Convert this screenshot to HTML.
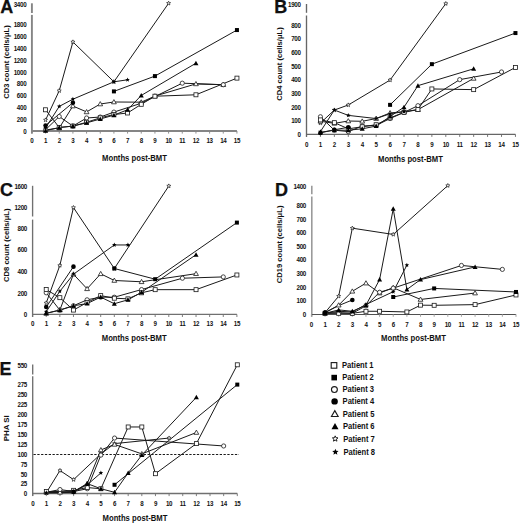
<!DOCTYPE html>
<html><head><meta charset="utf-8"><style>
html,body{margin:0;padding:0;background:#fff;}
body{width:520px;height:523px;overflow:hidden;}
svg{display:block;}
text{font-family:"Liberation Sans", sans-serif;fill:#111;}
</style></head><body>
<svg width="520" height="523" viewBox="0 0 520 523">
<rect width="520" height="523" fill="#fff"/>
<text x="0.30" y="13.20" font-size="18" font-weight="bold" text-anchor="start" stroke="#000" stroke-width="0.25">A</text>
<line x1="31.90" y1="133.60" x2="31.90" y2="14.90" stroke="#858585" stroke-width="1.9"/>
<line x1="31.90" y1="13.00" x2="31.90" y2="3.30" stroke="#858585" stroke-width="1.9"/>
<line x1="31.90" y1="131.00" x2="236.95" y2="131.00" stroke="#858585" stroke-width="1.9"/>
<line x1="31.90" y1="131.00" x2="31.90" y2="133.60" stroke="#858585" stroke-width="0.9"/>
<text transform="translate(31.90,143.00) scale(1,1.15)" font-size="6.2" font-weight="bold" text-anchor="middle" letter-spacing="-0.3">0</text>
<line x1="45.57" y1="131.00" x2="45.57" y2="133.60" stroke="#858585" stroke-width="0.9"/>
<text transform="translate(45.57,143.00) scale(1,1.15)" font-size="6.2" font-weight="bold" text-anchor="middle" letter-spacing="-0.3">1</text>
<line x1="59.24" y1="131.00" x2="59.24" y2="133.60" stroke="#858585" stroke-width="0.9"/>
<text transform="translate(59.24,143.00) scale(1,1.15)" font-size="6.2" font-weight="bold" text-anchor="middle" letter-spacing="-0.3">2</text>
<line x1="72.91" y1="131.00" x2="72.91" y2="133.60" stroke="#858585" stroke-width="0.9"/>
<text transform="translate(72.91,143.00) scale(1,1.15)" font-size="6.2" font-weight="bold" text-anchor="middle" letter-spacing="-0.3">3</text>
<line x1="86.58" y1="131.00" x2="86.58" y2="133.60" stroke="#858585" stroke-width="0.9"/>
<text transform="translate(86.58,143.00) scale(1,1.15)" font-size="6.2" font-weight="bold" text-anchor="middle" letter-spacing="-0.3">4</text>
<line x1="100.25" y1="131.00" x2="100.25" y2="133.60" stroke="#858585" stroke-width="0.9"/>
<text transform="translate(100.25,143.00) scale(1,1.15)" font-size="6.2" font-weight="bold" text-anchor="middle" letter-spacing="-0.3">5</text>
<line x1="113.92" y1="131.00" x2="113.92" y2="133.60" stroke="#858585" stroke-width="0.9"/>
<text transform="translate(113.92,143.00) scale(1,1.15)" font-size="6.2" font-weight="bold" text-anchor="middle" letter-spacing="-0.3">6</text>
<line x1="127.59" y1="131.00" x2="127.59" y2="133.60" stroke="#858585" stroke-width="0.9"/>
<text transform="translate(127.59,143.00) scale(1,1.15)" font-size="6.2" font-weight="bold" text-anchor="middle" letter-spacing="-0.3">7</text>
<line x1="141.26" y1="131.00" x2="141.26" y2="133.60" stroke="#858585" stroke-width="0.9"/>
<text transform="translate(141.26,143.00) scale(1,1.15)" font-size="6.2" font-weight="bold" text-anchor="middle" letter-spacing="-0.3">8</text>
<line x1="154.93" y1="131.00" x2="154.93" y2="133.60" stroke="#858585" stroke-width="0.9"/>
<text transform="translate(154.93,143.00) scale(1,1.15)" font-size="6.2" font-weight="bold" text-anchor="middle" letter-spacing="-0.3">9</text>
<line x1="168.60" y1="131.00" x2="168.60" y2="133.60" stroke="#858585" stroke-width="0.9"/>
<text transform="translate(168.60,143.00) scale(1,1.15)" font-size="6.2" font-weight="bold" text-anchor="middle" letter-spacing="-0.3">10</text>
<line x1="182.27" y1="131.00" x2="182.27" y2="133.60" stroke="#858585" stroke-width="0.9"/>
<text transform="translate(182.27,143.00) scale(1,1.15)" font-size="6.2" font-weight="bold" text-anchor="middle" letter-spacing="-0.3">11</text>
<line x1="195.94" y1="131.00" x2="195.94" y2="133.60" stroke="#858585" stroke-width="0.9"/>
<text transform="translate(195.94,143.00) scale(1,1.15)" font-size="6.2" font-weight="bold" text-anchor="middle" letter-spacing="-0.3">12</text>
<line x1="209.61" y1="131.00" x2="209.61" y2="133.60" stroke="#858585" stroke-width="0.9"/>
<text transform="translate(209.61,143.00) scale(1,1.15)" font-size="6.2" font-weight="bold" text-anchor="middle" letter-spacing="-0.3">13</text>
<line x1="223.28" y1="131.00" x2="223.28" y2="133.60" stroke="#858585" stroke-width="0.9"/>
<text transform="translate(223.28,143.00) scale(1,1.15)" font-size="6.2" font-weight="bold" text-anchor="middle" letter-spacing="-0.3">14</text>
<line x1="236.95" y1="131.00" x2="236.95" y2="133.60" stroke="#858585" stroke-width="0.9"/>
<text transform="translate(236.95,143.00) scale(1,1.15)" font-size="6.2" font-weight="bold" text-anchor="middle" letter-spacing="-0.3">15</text>
<text transform="translate(26.30,134.00) scale(1,1.15)" font-size="6.2" font-weight="bold" text-anchor="end" letter-spacing="-0.3">0</text>
<text transform="translate(26.30,122.10) scale(1,1.15)" font-size="6.2" font-weight="bold" text-anchor="end" letter-spacing="-0.3">200</text>
<text transform="translate(26.30,110.20) scale(1,1.15)" font-size="6.2" font-weight="bold" text-anchor="end" letter-spacing="-0.3">400</text>
<text transform="translate(26.30,98.30) scale(1,1.15)" font-size="6.2" font-weight="bold" text-anchor="end" letter-spacing="-0.3">600</text>
<text transform="translate(26.30,86.40) scale(1,1.15)" font-size="6.2" font-weight="bold" text-anchor="end" letter-spacing="-0.3">800</text>
<text transform="translate(26.30,74.50) scale(1,1.15)" font-size="6.2" font-weight="bold" text-anchor="end" letter-spacing="-0.3">1000</text>
<text transform="translate(26.30,62.60) scale(1,1.15)" font-size="6.2" font-weight="bold" text-anchor="end" letter-spacing="-0.3">1200</text>
<text transform="translate(26.30,50.70) scale(1,1.15)" font-size="6.2" font-weight="bold" text-anchor="end" letter-spacing="-0.3">1400</text>
<text transform="translate(26.30,38.80) scale(1,1.15)" font-size="6.2" font-weight="bold" text-anchor="end" letter-spacing="-0.3">1600</text>
<text transform="translate(26.30,26.90) scale(1,1.15)" font-size="6.2" font-weight="bold" text-anchor="end" letter-spacing="-0.3">1800</text>
<text transform="translate(26.30,6.50) scale(1,1.15)" font-size="6.2" font-weight="bold" text-anchor="end" letter-spacing="-0.3">3400</text>
<text transform="translate(134.50,161.40) scale(1,1.12)" font-size="7.7" font-weight="bold" text-anchor="middle" >Months post-BMT</text>
<text transform="translate(9.00,62.00) rotate(-90)" font-size="7.6" font-weight="bold" text-anchor="middle">CD3 count (cells/&#956;L)</text>
<polyline points="45.57,109.78 59.24,127.51 72.91,126.08 86.58,122.27 100.25,117.81 113.92,114.54 127.59,112.99 141.26,104.31 154.93,96.21 195.94,94.79 236.95,78.13" fill="none" stroke="#1a1a1a" stroke-width="1.0"/>
<polyline points="113.92,91.39 154.93,76.10 236.95,30.05" fill="none" stroke="#1a1a1a" stroke-width="1.0"/>
<polyline points="45.57,129.71 59.24,116.50 72.91,126.08 86.58,117.99 100.25,117.04 113.92,112.10 141.26,103.23 182.27,83.18 223.28,84.73" fill="none" stroke="#1a1a1a" stroke-width="1.0"/>
<polyline points="45.57,125.43 72.91,102.70" fill="none" stroke="#1a1a1a" stroke-width="1.0"/>
<polyline points="45.57,130.01 59.24,127.93 72.91,106.03 86.58,111.92 100.25,104.01 113.92,101.99 141.26,102.16 154.93,96.09 195.94,83.90 223.28,84.73" fill="none" stroke="#1a1a1a" stroke-width="1.0"/>
<polyline points="45.57,130.72 59.24,127.51 72.91,126.08 86.58,122.87 100.25,119.00 113.92,115.13 127.59,109.78 141.26,95.44 195.94,63.19" fill="none" stroke="#1a1a1a" stroke-width="1.0"/>
<polyline points="45.57,120.01 59.24,90.74 72.91,41.95 113.92,81.81 168.60,3.30" fill="none" stroke="#1a1a1a" stroke-width="1.0"/>
<polyline points="45.57,127.93 59.24,106.39 72.91,99.19 113.92,81.81 127.59,79.79" fill="none" stroke="#1a1a1a" stroke-width="1.0"/>
<polygon points="45.57,117.91 46.13,119.25 47.57,119.37 46.47,120.31 46.80,121.71 45.57,120.96 44.34,121.71 44.67,120.31 43.57,119.37 45.01,119.25" fill="#fff" stroke="#1a1a1a" stroke-width="0.7"/>
<polygon points="59.24,88.64 59.80,89.97 61.24,90.09 60.14,91.03 60.47,92.44 59.24,91.69 58.01,92.44 58.34,91.03 57.24,90.09 58.68,89.97" fill="#fff" stroke="#1a1a1a" stroke-width="0.7"/>
<polygon points="72.91,39.85 73.47,41.18 74.91,41.30 73.81,42.24 74.14,43.65 72.91,42.90 71.68,43.65 72.01,42.24 70.91,41.30 72.35,41.18" fill="#fff" stroke="#1a1a1a" stroke-width="0.7"/>
<polygon points="113.92,79.72 114.48,81.05 115.92,81.17 114.82,82.11 115.15,83.51 113.92,82.77 112.69,83.51 113.02,82.11 111.92,81.17 113.36,81.05" fill="#fff" stroke="#1a1a1a" stroke-width="0.7"/>
<polygon points="168.60,1.20 169.16,2.53 170.60,2.65 169.50,3.59 169.83,5.00 168.60,4.25 167.37,5.00 167.70,3.59 166.60,2.65 168.04,2.53" fill="#fff" stroke="#1a1a1a" stroke-width="0.7"/>
<polygon points="45.57,127.61 47.97,131.81 43.17,131.81" fill="#fff" stroke="#1a1a1a" stroke-width="0.8"/>
<polygon points="59.24,125.53 61.64,129.73 56.84,129.73" fill="#fff" stroke="#1a1a1a" stroke-width="0.8"/>
<polygon points="72.91,103.63 75.31,107.83 70.51,107.83" fill="#fff" stroke="#1a1a1a" stroke-width="0.8"/>
<polygon points="86.58,109.52 88.98,113.72 84.18,113.72" fill="#fff" stroke="#1a1a1a" stroke-width="0.8"/>
<polygon points="100.25,101.61 102.65,105.81 97.85,105.81" fill="#fff" stroke="#1a1a1a" stroke-width="0.8"/>
<polygon points="113.92,99.59 116.32,103.79 111.52,103.79" fill="#fff" stroke="#1a1a1a" stroke-width="0.8"/>
<polygon points="141.26,99.76 143.66,103.96 138.86,103.96" fill="#fff" stroke="#1a1a1a" stroke-width="0.8"/>
<polygon points="154.93,93.69 157.33,97.89 152.53,97.89" fill="#fff" stroke="#1a1a1a" stroke-width="0.8"/>
<polygon points="195.94,81.50 198.34,85.70 193.54,85.70" fill="#fff" stroke="#1a1a1a" stroke-width="0.8"/>
<polygon points="223.28,82.33 225.68,86.53 220.88,86.53" fill="#fff" stroke="#1a1a1a" stroke-width="0.8"/>
<circle cx="45.57" cy="129.71" r="2.1" fill="#fff" stroke="#1a1a1a" stroke-width="0.8"/>
<circle cx="59.24" cy="116.50" r="2.1" fill="#fff" stroke="#1a1a1a" stroke-width="0.8"/>
<circle cx="72.91" cy="126.08" r="2.1" fill="#fff" stroke="#1a1a1a" stroke-width="0.8"/>
<circle cx="86.58" cy="117.99" r="2.1" fill="#fff" stroke="#1a1a1a" stroke-width="0.8"/>
<circle cx="100.25" cy="117.04" r="2.1" fill="#fff" stroke="#1a1a1a" stroke-width="0.8"/>
<circle cx="113.92" cy="112.10" r="2.1" fill="#fff" stroke="#1a1a1a" stroke-width="0.8"/>
<circle cx="141.26" cy="103.23" r="2.1" fill="#fff" stroke="#1a1a1a" stroke-width="0.8"/>
<circle cx="182.27" cy="83.18" r="2.1" fill="#fff" stroke="#1a1a1a" stroke-width="0.8"/>
<circle cx="223.28" cy="84.73" r="2.1" fill="#fff" stroke="#1a1a1a" stroke-width="0.8"/>
<rect x="43.57" y="107.78" width="4.00" height="4.00" fill="#fff" stroke="#1a1a1a" stroke-width="0.8"/>
<rect x="57.24" y="125.51" width="4.00" height="4.00" fill="#fff" stroke="#1a1a1a" stroke-width="0.8"/>
<rect x="70.91" y="124.08" width="4.00" height="4.00" fill="#fff" stroke="#1a1a1a" stroke-width="0.8"/>
<rect x="84.58" y="120.27" width="4.00" height="4.00" fill="#fff" stroke="#1a1a1a" stroke-width="0.8"/>
<rect x="98.25" y="115.81" width="4.00" height="4.00" fill="#fff" stroke="#1a1a1a" stroke-width="0.8"/>
<rect x="111.92" y="112.54" width="4.00" height="4.00" fill="#fff" stroke="#1a1a1a" stroke-width="0.8"/>
<rect x="125.59" y="110.99" width="4.00" height="4.00" fill="#fff" stroke="#1a1a1a" stroke-width="0.8"/>
<rect x="139.26" y="102.31" width="4.00" height="4.00" fill="#fff" stroke="#1a1a1a" stroke-width="0.8"/>
<rect x="152.93" y="94.21" width="4.00" height="4.00" fill="#fff" stroke="#1a1a1a" stroke-width="0.8"/>
<rect x="193.94" y="92.79" width="4.00" height="4.00" fill="#fff" stroke="#1a1a1a" stroke-width="0.8"/>
<rect x="234.95" y="76.13" width="4.00" height="4.00" fill="#fff" stroke="#1a1a1a" stroke-width="0.8"/>
<polygon points="45.57,125.53 46.19,127.08 47.85,127.19 46.57,128.25 46.98,129.87 45.57,128.98 44.16,129.87 44.57,128.25 43.29,127.19 44.95,127.08" fill="#000"/>
<polygon points="59.24,103.99 59.86,105.54 61.52,105.65 60.24,106.71 60.65,108.33 59.24,107.44 57.83,108.33 58.24,106.71 56.96,105.65 58.62,105.54" fill="#000"/>
<polygon points="72.91,96.79 73.53,98.34 75.19,98.45 73.91,99.51 74.32,101.13 72.91,100.24 71.50,101.13 71.91,99.51 70.63,98.45 72.29,98.34" fill="#000"/>
<polygon points="113.92,79.41 114.54,80.97 116.20,81.07 114.92,82.14 115.33,83.76 113.92,82.86 112.51,83.76 112.92,82.14 111.64,81.07 113.30,80.97" fill="#000"/>
<polygon points="127.59,77.39 128.21,78.94 129.87,79.05 128.59,80.12 129.00,81.73 127.59,80.84 126.18,81.73 126.59,80.12 125.31,79.05 126.97,78.94" fill="#000"/>
<polygon points="45.57,128.22 48.07,132.72 43.07,132.72" fill="#000"/>
<polygon points="59.24,125.01 61.74,129.51 56.74,129.51" fill="#000"/>
<polygon points="72.91,123.58 75.41,128.08 70.41,128.08" fill="#000"/>
<polygon points="86.58,120.37 89.08,124.87 84.08,124.87" fill="#000"/>
<polygon points="100.25,116.50 102.75,121.00 97.75,121.00" fill="#000"/>
<polygon points="113.92,112.63 116.42,117.13 111.42,117.13" fill="#000"/>
<polygon points="127.59,107.28 130.09,111.78 125.09,111.78" fill="#000"/>
<polygon points="141.26,92.94 143.76,97.44 138.76,97.44" fill="#000"/>
<polygon points="195.94,60.69 198.44,65.19 193.44,65.19" fill="#000"/>
<circle cx="45.57" cy="125.43" r="2.3" fill="#000"/>
<circle cx="72.91" cy="102.70" r="2.3" fill="#000"/>
<rect x="111.92" y="89.39" width="4.00" height="4.00" fill="#000"/>
<rect x="152.93" y="74.10" width="4.00" height="4.00" fill="#000"/>
<rect x="234.95" y="28.05" width="4.00" height="4.00" fill="#000"/>
<text x="274.20" y="13.40" font-size="18" font-weight="bold" text-anchor="start" stroke="#000" stroke-width="0.25">B</text>
<line x1="306.50" y1="136.90" x2="306.50" y2="15.50" stroke="#666666" stroke-width="1.35"/>
<line x1="306.50" y1="12.80" x2="306.50" y2="4.00" stroke="#666666" stroke-width="1.35"/>
<line x1="306.50" y1="134.30" x2="515.45" y2="134.30" stroke="#666666" stroke-width="1.35"/>
<line x1="306.50" y1="134.30" x2="306.50" y2="136.90" stroke="#666666" stroke-width="0.9"/>
<text transform="translate(306.50,147.10) scale(1,1.15)" font-size="6.2" font-weight="bold" text-anchor="middle" letter-spacing="-0.3">0</text>
<line x1="320.43" y1="134.30" x2="320.43" y2="136.90" stroke="#666666" stroke-width="0.9"/>
<text transform="translate(320.43,147.10) scale(1,1.15)" font-size="6.2" font-weight="bold" text-anchor="middle" letter-spacing="-0.3">1</text>
<line x1="334.36" y1="134.30" x2="334.36" y2="136.90" stroke="#666666" stroke-width="0.9"/>
<text transform="translate(334.36,147.10) scale(1,1.15)" font-size="6.2" font-weight="bold" text-anchor="middle" letter-spacing="-0.3">2</text>
<line x1="348.29" y1="134.30" x2="348.29" y2="136.90" stroke="#666666" stroke-width="0.9"/>
<text transform="translate(348.29,147.10) scale(1,1.15)" font-size="6.2" font-weight="bold" text-anchor="middle" letter-spacing="-0.3">3</text>
<line x1="362.22" y1="134.30" x2="362.22" y2="136.90" stroke="#666666" stroke-width="0.9"/>
<text transform="translate(362.22,147.10) scale(1,1.15)" font-size="6.2" font-weight="bold" text-anchor="middle" letter-spacing="-0.3">4</text>
<line x1="376.15" y1="134.30" x2="376.15" y2="136.90" stroke="#666666" stroke-width="0.9"/>
<text transform="translate(376.15,147.10) scale(1,1.15)" font-size="6.2" font-weight="bold" text-anchor="middle" letter-spacing="-0.3">5</text>
<line x1="390.08" y1="134.30" x2="390.08" y2="136.90" stroke="#666666" stroke-width="0.9"/>
<text transform="translate(390.08,147.10) scale(1,1.15)" font-size="6.2" font-weight="bold" text-anchor="middle" letter-spacing="-0.3">6</text>
<line x1="404.01" y1="134.30" x2="404.01" y2="136.90" stroke="#666666" stroke-width="0.9"/>
<text transform="translate(404.01,147.10) scale(1,1.15)" font-size="6.2" font-weight="bold" text-anchor="middle" letter-spacing="-0.3">7</text>
<line x1="417.94" y1="134.30" x2="417.94" y2="136.90" stroke="#666666" stroke-width="0.9"/>
<text transform="translate(417.94,147.10) scale(1,1.15)" font-size="6.2" font-weight="bold" text-anchor="middle" letter-spacing="-0.3">8</text>
<line x1="431.87" y1="134.30" x2="431.87" y2="136.90" stroke="#666666" stroke-width="0.9"/>
<text transform="translate(431.87,147.10) scale(1,1.15)" font-size="6.2" font-weight="bold" text-anchor="middle" letter-spacing="-0.3">9</text>
<line x1="445.80" y1="134.30" x2="445.80" y2="136.90" stroke="#666666" stroke-width="0.9"/>
<text transform="translate(445.80,147.10) scale(1,1.15)" font-size="6.2" font-weight="bold" text-anchor="middle" letter-spacing="-0.3">10</text>
<line x1="459.73" y1="134.30" x2="459.73" y2="136.90" stroke="#666666" stroke-width="0.9"/>
<text transform="translate(459.73,147.10) scale(1,1.15)" font-size="6.2" font-weight="bold" text-anchor="middle" letter-spacing="-0.3">11</text>
<line x1="473.66" y1="134.30" x2="473.66" y2="136.90" stroke="#666666" stroke-width="0.9"/>
<text transform="translate(473.66,147.10) scale(1,1.15)" font-size="6.2" font-weight="bold" text-anchor="middle" letter-spacing="-0.3">12</text>
<line x1="487.59" y1="134.30" x2="487.59" y2="136.90" stroke="#666666" stroke-width="0.9"/>
<text transform="translate(487.59,147.10) scale(1,1.15)" font-size="6.2" font-weight="bold" text-anchor="middle" letter-spacing="-0.3">13</text>
<line x1="501.52" y1="134.30" x2="501.52" y2="136.90" stroke="#666666" stroke-width="0.9"/>
<text transform="translate(501.52,147.10) scale(1,1.15)" font-size="6.2" font-weight="bold" text-anchor="middle" letter-spacing="-0.3">14</text>
<line x1="515.45" y1="134.30" x2="515.45" y2="136.90" stroke="#666666" stroke-width="0.9"/>
<text transform="translate(515.45,147.10) scale(1,1.15)" font-size="6.2" font-weight="bold" text-anchor="middle" letter-spacing="-0.3">15</text>
<text transform="translate(300.60,137.10) scale(1,1.15)" font-size="6.2" font-weight="bold" text-anchor="end" letter-spacing="-0.3">0</text>
<text transform="translate(300.60,123.40) scale(1,1.15)" font-size="6.2" font-weight="bold" text-anchor="end" letter-spacing="-0.3">100</text>
<text transform="translate(300.60,109.70) scale(1,1.15)" font-size="6.2" font-weight="bold" text-anchor="end" letter-spacing="-0.3">200</text>
<text transform="translate(300.60,96.00) scale(1,1.15)" font-size="6.2" font-weight="bold" text-anchor="end" letter-spacing="-0.3">300</text>
<text transform="translate(300.60,82.30) scale(1,1.15)" font-size="6.2" font-weight="bold" text-anchor="end" letter-spacing="-0.3">400</text>
<text transform="translate(300.60,68.60) scale(1,1.15)" font-size="6.2" font-weight="bold" text-anchor="end" letter-spacing="-0.3">500</text>
<text transform="translate(300.60,54.90) scale(1,1.15)" font-size="6.2" font-weight="bold" text-anchor="end" letter-spacing="-0.3">600</text>
<text transform="translate(300.60,41.20) scale(1,1.15)" font-size="6.2" font-weight="bold" text-anchor="end" letter-spacing="-0.3">700</text>
<text transform="translate(300.60,27.50) scale(1,1.15)" font-size="6.2" font-weight="bold" text-anchor="end" letter-spacing="-0.3">800</text>
<text transform="translate(300.60,6.90) scale(1,1.15)" font-size="6.2" font-weight="bold" text-anchor="end" letter-spacing="-0.3">1900</text>
<text transform="translate(410.40,161.80) scale(1,1.12)" font-size="7.7" font-weight="bold" text-anchor="middle" >Months post-BMT</text>
<text transform="translate(282.20,64.00) rotate(-90)" font-size="7.6" font-weight="bold" text-anchor="middle">CD4 count (cells/&#956;L)</text>
<polyline points="320.43,119.92 334.36,122.66 348.29,128.82 362.22,126.77 376.15,124.71 390.08,117.86 404.01,112.38 417.94,109.50 431.87,88.95 473.66,89.64 515.45,67.44" fill="none" stroke="#1a1a1a" stroke-width="1.0"/>
<polyline points="390.08,104.85 431.87,64.16 515.45,33.06" fill="none" stroke="#1a1a1a" stroke-width="1.0"/>
<polyline points="320.43,116.76 334.36,130.19 348.29,131.56 362.22,126.08 376.15,125.40 390.08,118.55 404.01,112.38 417.94,105.67 459.73,79.64 501.52,71.97" fill="none" stroke="#1a1a1a" stroke-width="1.0"/>
<polyline points="320.43,132.93 334.36,129.78 348.29,127.31" fill="none" stroke="#1a1a1a" stroke-width="1.0"/>
<polyline points="320.43,121.29 334.36,123.34 348.29,121.01 362.22,121.29 376.15,118.55 390.08,112.93 404.01,111.70 417.94,109.64 473.66,78.40" fill="none" stroke="#1a1a1a" stroke-width="1.0"/>
<polyline points="320.43,132.25 334.36,130.19 348.29,130.19 362.22,128.82 376.15,126.08 390.08,116.49 404.01,107.17 417.94,85.67 473.66,68.81" fill="none" stroke="#1a1a1a" stroke-width="1.0"/>
<polyline points="320.43,123.07 334.36,110.05 348.29,104.98 390.08,80.05 445.80,3.60" fill="none" stroke="#1a1a1a" stroke-width="1.0"/>
<polyline points="320.43,131.56 334.36,110.05 348.29,115.39 376.15,118.55 390.08,113.75 404.01,111.70" fill="none" stroke="#1a1a1a" stroke-width="1.0"/>
<polygon points="320.43,120.97 320.99,122.30 322.43,122.42 321.33,123.36 321.66,124.76 320.43,124.02 319.20,124.76 319.53,123.36 318.43,122.42 319.87,122.30" fill="#fff" stroke="#1a1a1a" stroke-width="0.7"/>
<polygon points="334.36,107.95 334.92,109.28 336.36,109.40 335.26,110.34 335.59,111.75 334.36,111.00 333.13,111.75 333.46,110.34 332.36,109.40 333.80,109.28" fill="#fff" stroke="#1a1a1a" stroke-width="0.7"/>
<polygon points="348.29,102.88 348.85,104.21 350.29,104.33 349.19,105.28 349.52,106.68 348.29,105.93 347.06,106.68 347.39,105.28 346.29,104.33 347.73,104.21" fill="#fff" stroke="#1a1a1a" stroke-width="0.7"/>
<polygon points="390.08,77.95 390.64,79.28 392.08,79.40 390.98,80.34 391.31,81.75 390.08,81.00 388.85,81.75 389.18,80.34 388.08,79.40 389.52,79.28" fill="#fff" stroke="#1a1a1a" stroke-width="0.7"/>
<polygon points="445.80,1.50 446.36,2.83 447.80,2.95 446.70,3.89 447.03,5.30 445.80,4.55 444.57,5.30 444.90,3.89 443.80,2.95 445.24,2.83" fill="#fff" stroke="#1a1a1a" stroke-width="0.7"/>
<polygon points="320.43,118.89 322.83,123.09 318.03,123.09" fill="#fff" stroke="#1a1a1a" stroke-width="0.8"/>
<polygon points="334.36,120.94 336.76,125.14 331.96,125.14" fill="#fff" stroke="#1a1a1a" stroke-width="0.8"/>
<polygon points="348.29,118.61 350.69,122.81 345.89,122.81" fill="#fff" stroke="#1a1a1a" stroke-width="0.8"/>
<polygon points="362.22,118.89 364.62,123.09 359.82,123.09" fill="#fff" stroke="#1a1a1a" stroke-width="0.8"/>
<polygon points="376.15,116.15 378.55,120.35 373.75,120.35" fill="#fff" stroke="#1a1a1a" stroke-width="0.8"/>
<polygon points="390.08,110.53 392.48,114.73 387.68,114.73" fill="#fff" stroke="#1a1a1a" stroke-width="0.8"/>
<polygon points="404.01,109.30 406.41,113.50 401.61,113.50" fill="#fff" stroke="#1a1a1a" stroke-width="0.8"/>
<polygon points="417.94,107.24 420.34,111.44 415.54,111.44" fill="#fff" stroke="#1a1a1a" stroke-width="0.8"/>
<polygon points="473.66,76.00 476.06,80.20 471.26,80.20" fill="#fff" stroke="#1a1a1a" stroke-width="0.8"/>
<circle cx="320.43" cy="116.76" r="2.1" fill="#fff" stroke="#1a1a1a" stroke-width="0.8"/>
<circle cx="334.36" cy="130.19" r="2.1" fill="#fff" stroke="#1a1a1a" stroke-width="0.8"/>
<circle cx="348.29" cy="131.56" r="2.1" fill="#fff" stroke="#1a1a1a" stroke-width="0.8"/>
<circle cx="362.22" cy="126.08" r="2.1" fill="#fff" stroke="#1a1a1a" stroke-width="0.8"/>
<circle cx="376.15" cy="125.40" r="2.1" fill="#fff" stroke="#1a1a1a" stroke-width="0.8"/>
<circle cx="390.08" cy="118.55" r="2.1" fill="#fff" stroke="#1a1a1a" stroke-width="0.8"/>
<circle cx="404.01" cy="112.38" r="2.1" fill="#fff" stroke="#1a1a1a" stroke-width="0.8"/>
<circle cx="417.94" cy="105.67" r="2.1" fill="#fff" stroke="#1a1a1a" stroke-width="0.8"/>
<circle cx="459.73" cy="79.64" r="2.1" fill="#fff" stroke="#1a1a1a" stroke-width="0.8"/>
<circle cx="501.52" cy="71.97" r="2.1" fill="#fff" stroke="#1a1a1a" stroke-width="0.8"/>
<rect x="318.43" y="117.92" width="4.00" height="4.00" fill="#fff" stroke="#1a1a1a" stroke-width="0.8"/>
<rect x="332.36" y="120.66" width="4.00" height="4.00" fill="#fff" stroke="#1a1a1a" stroke-width="0.8"/>
<rect x="346.29" y="126.82" width="4.00" height="4.00" fill="#fff" stroke="#1a1a1a" stroke-width="0.8"/>
<rect x="360.22" y="124.77" width="4.00" height="4.00" fill="#fff" stroke="#1a1a1a" stroke-width="0.8"/>
<rect x="374.15" y="122.71" width="4.00" height="4.00" fill="#fff" stroke="#1a1a1a" stroke-width="0.8"/>
<rect x="388.08" y="115.86" width="4.00" height="4.00" fill="#fff" stroke="#1a1a1a" stroke-width="0.8"/>
<rect x="402.01" y="110.38" width="4.00" height="4.00" fill="#fff" stroke="#1a1a1a" stroke-width="0.8"/>
<rect x="415.94" y="107.50" width="4.00" height="4.00" fill="#fff" stroke="#1a1a1a" stroke-width="0.8"/>
<rect x="429.87" y="86.95" width="4.00" height="4.00" fill="#fff" stroke="#1a1a1a" stroke-width="0.8"/>
<rect x="471.66" y="87.64" width="4.00" height="4.00" fill="#fff" stroke="#1a1a1a" stroke-width="0.8"/>
<rect x="513.45" y="65.44" width="4.00" height="4.00" fill="#fff" stroke="#1a1a1a" stroke-width="0.8"/>
<polygon points="320.43,129.16 321.05,130.71 322.71,130.82 321.43,131.88 321.84,133.50 320.43,132.61 319.02,133.50 319.43,131.88 318.15,130.82 319.81,130.71" fill="#000"/>
<polygon points="334.36,107.65 334.98,109.20 336.64,109.31 335.36,110.38 335.77,111.99 334.36,111.10 332.95,111.99 333.36,110.38 332.08,109.31 333.74,109.20" fill="#000"/>
<polygon points="348.29,112.99 348.91,114.54 350.57,114.65 349.29,115.72 349.70,117.34 348.29,116.44 346.88,117.34 347.29,115.72 346.01,114.65 347.67,114.54" fill="#000"/>
<polygon points="376.15,116.15 376.77,117.70 378.43,117.80 377.15,118.87 377.56,120.49 376.15,119.60 374.74,120.49 375.15,118.87 373.87,117.80 375.53,117.70" fill="#000"/>
<polygon points="390.08,111.35 390.70,112.90 392.36,113.01 391.08,114.07 391.49,115.69 390.08,114.80 388.67,115.69 389.08,114.07 387.80,113.01 389.46,112.90" fill="#000"/>
<polygon points="404.01,109.30 404.63,110.85 406.29,110.95 405.01,112.02 405.42,113.64 404.01,112.75 402.60,113.64 403.01,112.02 401.73,110.95 403.39,110.85" fill="#000"/>
<polygon points="320.43,129.75 322.93,134.25 317.93,134.25" fill="#000"/>
<polygon points="334.36,127.69 336.86,132.19 331.86,132.19" fill="#000"/>
<polygon points="348.29,127.69 350.79,132.19 345.79,132.19" fill="#000"/>
<polygon points="362.22,126.32 364.72,130.82 359.72,130.82" fill="#000"/>
<polygon points="376.15,123.58 378.65,128.08 373.65,128.08" fill="#000"/>
<polygon points="390.08,113.99 392.58,118.49 387.58,118.49" fill="#000"/>
<polygon points="404.01,104.67 406.51,109.17 401.51,109.17" fill="#000"/>
<polygon points="417.94,83.17 420.44,87.67 415.44,87.67" fill="#000"/>
<polygon points="473.66,66.31 476.16,70.81 471.16,70.81" fill="#000"/>
<circle cx="320.43" cy="132.93" r="2.3" fill="#000"/>
<circle cx="334.36" cy="129.78" r="2.3" fill="#000"/>
<circle cx="348.29" cy="127.31" r="2.3" fill="#000"/>
<rect x="388.08" y="102.85" width="4.00" height="4.00" fill="#000"/>
<rect x="429.87" y="62.16" width="4.00" height="4.00" fill="#000"/>
<rect x="513.45" y="31.06" width="4.00" height="4.00" fill="#000"/>
<text x="0.00" y="195.80" font-size="18" font-weight="bold" text-anchor="start" stroke="#000" stroke-width="0.25">C</text>
<line x1="32.60" y1="317.00" x2="32.60" y2="219.60" stroke="#707070" stroke-width="1.35"/>
<line x1="32.60" y1="216.50" x2="32.60" y2="185.80" stroke="#707070" stroke-width="1.35"/>
<line x1="32.60" y1="314.40" x2="236.90" y2="314.40" stroke="#707070" stroke-width="1.35"/>
<line x1="32.60" y1="314.40" x2="32.60" y2="317.00" stroke="#707070" stroke-width="0.9"/>
<text transform="translate(32.60,326.10) scale(1,1.15)" font-size="6.2" font-weight="bold" text-anchor="middle" letter-spacing="-0.3">0</text>
<line x1="46.22" y1="314.40" x2="46.22" y2="317.00" stroke="#707070" stroke-width="0.9"/>
<text transform="translate(46.22,326.10) scale(1,1.15)" font-size="6.2" font-weight="bold" text-anchor="middle" letter-spacing="-0.3">1</text>
<line x1="59.84" y1="314.40" x2="59.84" y2="317.00" stroke="#707070" stroke-width="0.9"/>
<text transform="translate(59.84,326.10) scale(1,1.15)" font-size="6.2" font-weight="bold" text-anchor="middle" letter-spacing="-0.3">2</text>
<line x1="73.46" y1="314.40" x2="73.46" y2="317.00" stroke="#707070" stroke-width="0.9"/>
<text transform="translate(73.46,326.10) scale(1,1.15)" font-size="6.2" font-weight="bold" text-anchor="middle" letter-spacing="-0.3">3</text>
<line x1="87.08" y1="314.40" x2="87.08" y2="317.00" stroke="#707070" stroke-width="0.9"/>
<text transform="translate(87.08,326.10) scale(1,1.15)" font-size="6.2" font-weight="bold" text-anchor="middle" letter-spacing="-0.3">4</text>
<line x1="100.70" y1="314.40" x2="100.70" y2="317.00" stroke="#707070" stroke-width="0.9"/>
<text transform="translate(100.70,326.10) scale(1,1.15)" font-size="6.2" font-weight="bold" text-anchor="middle" letter-spacing="-0.3">5</text>
<line x1="114.32" y1="314.40" x2="114.32" y2="317.00" stroke="#707070" stroke-width="0.9"/>
<text transform="translate(114.32,326.10) scale(1,1.15)" font-size="6.2" font-weight="bold" text-anchor="middle" letter-spacing="-0.3">6</text>
<line x1="127.94" y1="314.40" x2="127.94" y2="317.00" stroke="#707070" stroke-width="0.9"/>
<text transform="translate(127.94,326.10) scale(1,1.15)" font-size="6.2" font-weight="bold" text-anchor="middle" letter-spacing="-0.3">7</text>
<line x1="141.56" y1="314.40" x2="141.56" y2="317.00" stroke="#707070" stroke-width="0.9"/>
<text transform="translate(141.56,326.10) scale(1,1.15)" font-size="6.2" font-weight="bold" text-anchor="middle" letter-spacing="-0.3">8</text>
<line x1="155.18" y1="314.40" x2="155.18" y2="317.00" stroke="#707070" stroke-width="0.9"/>
<text transform="translate(155.18,326.10) scale(1,1.15)" font-size="6.2" font-weight="bold" text-anchor="middle" letter-spacing="-0.3">9</text>
<line x1="168.80" y1="314.40" x2="168.80" y2="317.00" stroke="#707070" stroke-width="0.9"/>
<text transform="translate(168.80,326.10) scale(1,1.15)" font-size="6.2" font-weight="bold" text-anchor="middle" letter-spacing="-0.3">10</text>
<line x1="182.42" y1="314.40" x2="182.42" y2="317.00" stroke="#707070" stroke-width="0.9"/>
<text transform="translate(182.42,326.10) scale(1,1.15)" font-size="6.2" font-weight="bold" text-anchor="middle" letter-spacing="-0.3">11</text>
<line x1="196.04" y1="314.40" x2="196.04" y2="317.00" stroke="#707070" stroke-width="0.9"/>
<text transform="translate(196.04,326.10) scale(1,1.15)" font-size="6.2" font-weight="bold" text-anchor="middle" letter-spacing="-0.3">12</text>
<line x1="209.66" y1="314.40" x2="209.66" y2="317.00" stroke="#707070" stroke-width="0.9"/>
<text transform="translate(209.66,326.10) scale(1,1.15)" font-size="6.2" font-weight="bold" text-anchor="middle" letter-spacing="-0.3">13</text>
<line x1="223.28" y1="314.40" x2="223.28" y2="317.00" stroke="#707070" stroke-width="0.9"/>
<text transform="translate(223.28,326.10) scale(1,1.15)" font-size="6.2" font-weight="bold" text-anchor="middle" letter-spacing="-0.3">14</text>
<line x1="236.90" y1="314.40" x2="236.90" y2="317.00" stroke="#707070" stroke-width="0.9"/>
<text transform="translate(236.90,326.10) scale(1,1.15)" font-size="6.2" font-weight="bold" text-anchor="middle" letter-spacing="-0.3">15</text>
<text transform="translate(27.00,317.20) scale(1,1.15)" font-size="6.2" font-weight="bold" text-anchor="end" letter-spacing="-0.3">0</text>
<text transform="translate(27.00,295.60) scale(1,1.15)" font-size="6.2" font-weight="bold" text-anchor="end" letter-spacing="-0.3">200</text>
<text transform="translate(27.00,274.00) scale(1,1.15)" font-size="6.2" font-weight="bold" text-anchor="end" letter-spacing="-0.3">400</text>
<text transform="translate(27.00,252.40) scale(1,1.15)" font-size="6.2" font-weight="bold" text-anchor="end" letter-spacing="-0.3">600</text>
<text transform="translate(27.00,230.80) scale(1,1.15)" font-size="6.2" font-weight="bold" text-anchor="end" letter-spacing="-0.3">800</text>
<text transform="translate(27.00,210.40) scale(1,1.15)" font-size="6.2" font-weight="bold" text-anchor="end" letter-spacing="-0.3">1200</text>
<text transform="translate(27.00,188.80) scale(1,1.15)" font-size="6.2" font-weight="bold" text-anchor="end" letter-spacing="-0.3">1600</text>
<text transform="translate(134.20,341.40) scale(1,1.12)" font-size="7.7" font-weight="bold" text-anchor="middle" >Months post-BMT</text>
<text transform="translate(8.60,245.20) rotate(-90)" font-size="7.6" font-weight="bold" text-anchor="middle">CD8 count (cells/&#956;L)</text>
<polyline points="46.22,289.56 59.84,297.66 73.46,310.08 87.08,302.52 100.70,295.61 114.32,298.20 127.94,298.85 141.56,292.80 155.18,289.67 196.04,289.67 236.90,274.98" fill="none" stroke="#1a1a1a" stroke-width="1.0"/>
<polyline points="114.32,268.50 155.18,279.19 236.90,222.60" fill="none" stroke="#1a1a1a" stroke-width="1.0"/>
<polyline points="46.22,292.80 59.84,310.08 73.46,305.76 87.08,299.82 100.70,297.12 114.32,297.23 141.56,289.56 182.42,278.22 223.28,276.92" fill="none" stroke="#1a1a1a" stroke-width="1.0"/>
<polyline points="46.22,307.06 73.46,266.66" fill="none" stroke="#1a1a1a" stroke-width="1.0"/>
<polyline points="46.22,313.32 59.84,310.08 73.46,274.22 87.08,288.80 100.70,273.79 114.32,280.49 141.56,281.78 196.04,273.68" fill="none" stroke="#1a1a1a" stroke-width="1.0"/>
<polyline points="46.22,313.32 59.84,310.08 73.46,305.76 87.08,303.60 100.70,297.12 114.32,303.71 127.94,299.82 141.56,292.26 196.04,254.68" fill="none" stroke="#1a1a1a" stroke-width="1.0"/>
<polyline points="46.22,302.95 59.84,265.48 73.46,207.60 114.32,268.50 168.80,186.00" fill="none" stroke="#1a1a1a" stroke-width="1.0"/>
<polyline points="46.22,311.70 59.84,291.29 73.46,274.22 114.32,244.96 127.94,244.96" fill="none" stroke="#1a1a1a" stroke-width="1.0"/>
<polygon points="46.22,300.85 46.78,302.18 48.22,302.30 47.12,303.25 47.45,304.65 46.22,303.90 44.99,304.65 45.32,303.25 44.22,302.30 45.66,302.18" fill="#fff" stroke="#1a1a1a" stroke-width="0.7"/>
<polygon points="59.84,263.38 60.40,264.71 61.84,264.83 60.74,265.77 61.07,267.17 59.84,266.43 58.61,267.17 58.94,265.77 57.84,264.83 59.28,264.71" fill="#fff" stroke="#1a1a1a" stroke-width="0.7"/>
<polygon points="73.46,205.50 74.02,206.83 75.46,206.95 74.36,207.89 74.69,209.30 73.46,208.55 72.23,209.30 72.56,207.89 71.46,206.95 72.90,206.83" fill="#fff" stroke="#1a1a1a" stroke-width="0.7"/>
<polygon points="114.32,266.40 114.88,267.73 116.32,267.85 115.22,268.79 115.55,270.20 114.32,269.45 113.09,270.20 113.42,268.79 112.32,267.85 113.76,267.73" fill="#fff" stroke="#1a1a1a" stroke-width="0.7"/>
<polygon points="168.80,183.90 169.36,185.23 170.80,185.35 169.70,186.29 170.03,187.70 168.80,186.95 167.57,187.70 167.90,186.29 166.80,185.35 168.24,185.23" fill="#fff" stroke="#1a1a1a" stroke-width="0.7"/>
<polygon points="46.22,310.92 48.62,315.12 43.82,315.12" fill="#fff" stroke="#1a1a1a" stroke-width="0.8"/>
<polygon points="59.84,307.68 62.24,311.88 57.44,311.88" fill="#fff" stroke="#1a1a1a" stroke-width="0.8"/>
<polygon points="73.46,271.82 75.86,276.02 71.06,276.02" fill="#fff" stroke="#1a1a1a" stroke-width="0.8"/>
<polygon points="87.08,286.40 89.48,290.60 84.68,290.60" fill="#fff" stroke="#1a1a1a" stroke-width="0.8"/>
<polygon points="100.70,271.39 103.10,275.59 98.30,275.59" fill="#fff" stroke="#1a1a1a" stroke-width="0.8"/>
<polygon points="114.32,278.09 116.72,282.29 111.92,282.29" fill="#fff" stroke="#1a1a1a" stroke-width="0.8"/>
<polygon points="141.56,279.38 143.96,283.58 139.16,283.58" fill="#fff" stroke="#1a1a1a" stroke-width="0.8"/>
<polygon points="196.04,271.28 198.44,275.48 193.64,275.48" fill="#fff" stroke="#1a1a1a" stroke-width="0.8"/>
<circle cx="46.22" cy="292.80" r="2.1" fill="#fff" stroke="#1a1a1a" stroke-width="0.8"/>
<circle cx="59.84" cy="310.08" r="2.1" fill="#fff" stroke="#1a1a1a" stroke-width="0.8"/>
<circle cx="73.46" cy="305.76" r="2.1" fill="#fff" stroke="#1a1a1a" stroke-width="0.8"/>
<circle cx="87.08" cy="299.82" r="2.1" fill="#fff" stroke="#1a1a1a" stroke-width="0.8"/>
<circle cx="100.70" cy="297.12" r="2.1" fill="#fff" stroke="#1a1a1a" stroke-width="0.8"/>
<circle cx="114.32" cy="297.23" r="2.1" fill="#fff" stroke="#1a1a1a" stroke-width="0.8"/>
<circle cx="141.56" cy="289.56" r="2.1" fill="#fff" stroke="#1a1a1a" stroke-width="0.8"/>
<circle cx="182.42" cy="278.22" r="2.1" fill="#fff" stroke="#1a1a1a" stroke-width="0.8"/>
<circle cx="223.28" cy="276.92" r="2.1" fill="#fff" stroke="#1a1a1a" stroke-width="0.8"/>
<rect x="44.22" y="287.56" width="4.00" height="4.00" fill="#fff" stroke="#1a1a1a" stroke-width="0.8"/>
<rect x="57.84" y="295.66" width="4.00" height="4.00" fill="#fff" stroke="#1a1a1a" stroke-width="0.8"/>
<rect x="71.46" y="308.08" width="4.00" height="4.00" fill="#fff" stroke="#1a1a1a" stroke-width="0.8"/>
<rect x="85.08" y="300.52" width="4.00" height="4.00" fill="#fff" stroke="#1a1a1a" stroke-width="0.8"/>
<rect x="98.70" y="293.61" width="4.00" height="4.00" fill="#fff" stroke="#1a1a1a" stroke-width="0.8"/>
<rect x="112.32" y="296.20" width="4.00" height="4.00" fill="#fff" stroke="#1a1a1a" stroke-width="0.8"/>
<rect x="125.94" y="296.85" width="4.00" height="4.00" fill="#fff" stroke="#1a1a1a" stroke-width="0.8"/>
<rect x="139.56" y="290.80" width="4.00" height="4.00" fill="#fff" stroke="#1a1a1a" stroke-width="0.8"/>
<rect x="153.18" y="287.67" width="4.00" height="4.00" fill="#fff" stroke="#1a1a1a" stroke-width="0.8"/>
<rect x="194.04" y="287.67" width="4.00" height="4.00" fill="#fff" stroke="#1a1a1a" stroke-width="0.8"/>
<rect x="234.90" y="272.98" width="4.00" height="4.00" fill="#fff" stroke="#1a1a1a" stroke-width="0.8"/>
<polygon points="46.22,309.30 46.84,310.85 48.50,310.96 47.22,312.02 47.63,313.64 46.22,312.75 44.81,313.64 45.22,312.02 43.94,310.96 45.60,310.85" fill="#000"/>
<polygon points="59.84,288.89 60.46,290.44 62.12,290.55 60.84,291.61 61.25,293.23 59.84,292.34 58.43,293.23 58.84,291.61 57.56,290.55 59.22,290.44" fill="#000"/>
<polygon points="73.46,271.82 74.08,273.37 75.74,273.48 74.46,274.55 74.87,276.17 73.46,275.27 72.05,276.17 72.46,274.55 71.18,273.48 72.84,273.37" fill="#000"/>
<polygon points="114.32,242.56 114.94,244.11 116.60,244.21 115.32,245.28 115.73,246.90 114.32,246.01 112.91,246.90 113.32,245.28 112.04,244.21 113.70,244.11" fill="#000"/>
<polygon points="127.94,242.56 128.56,244.11 130.22,244.21 128.94,245.28 129.35,246.90 127.94,246.01 126.53,246.90 126.94,245.28 125.66,244.21 127.32,244.11" fill="#000"/>
<polygon points="46.22,310.82 48.72,315.32 43.72,315.32" fill="#000"/>
<polygon points="59.84,307.58 62.34,312.08 57.34,312.08" fill="#000"/>
<polygon points="73.46,303.26 75.96,307.76 70.96,307.76" fill="#000"/>
<polygon points="87.08,301.10 89.58,305.60 84.58,305.60" fill="#000"/>
<polygon points="100.70,294.62 103.20,299.12 98.20,299.12" fill="#000"/>
<polygon points="114.32,301.21 116.82,305.71 111.82,305.71" fill="#000"/>
<polygon points="127.94,297.32 130.44,301.82 125.44,301.82" fill="#000"/>
<polygon points="141.56,289.76 144.06,294.26 139.06,294.26" fill="#000"/>
<polygon points="196.04,252.18 198.54,256.68 193.54,256.68" fill="#000"/>
<circle cx="46.22" cy="307.06" r="2.3" fill="#000"/>
<circle cx="73.46" cy="266.66" r="2.3" fill="#000"/>
<rect x="112.32" y="266.50" width="4.00" height="4.00" fill="#000"/>
<rect x="153.18" y="277.19" width="4.00" height="4.00" fill="#000"/>
<rect x="234.90" y="220.60" width="4.00" height="4.00" fill="#000"/>
<text x="275.10" y="195.70" font-size="18" font-weight="bold" text-anchor="start" stroke="#000" stroke-width="0.25">D</text>
<line x1="311.80" y1="316.80" x2="311.80" y2="196.50" stroke="#9a9a9a" stroke-width="1.6"/>
<line x1="311.80" y1="194.20" x2="311.80" y2="185.80" stroke="#9a9a9a" stroke-width="1.6"/>
<line x1="311.80" y1="314.50" x2="516.00" y2="314.50" stroke="#505050" stroke-width="1.0"/>
<line x1="311.40" y1="314.20" x2="311.40" y2="316.80" stroke="#9a9a9a" stroke-width="0.9"/>
<text transform="translate(311.40,326.90) scale(1,1.15)" font-size="6.2" font-weight="bold" text-anchor="middle" letter-spacing="-0.3">0</text>
<line x1="325.04" y1="314.20" x2="325.04" y2="316.80" stroke="#9a9a9a" stroke-width="0.9"/>
<text transform="translate(325.04,326.90) scale(1,1.15)" font-size="6.2" font-weight="bold" text-anchor="middle" letter-spacing="-0.3">1</text>
<line x1="338.68" y1="314.20" x2="338.68" y2="316.80" stroke="#9a9a9a" stroke-width="0.9"/>
<text transform="translate(338.68,326.90) scale(1,1.15)" font-size="6.2" font-weight="bold" text-anchor="middle" letter-spacing="-0.3">2</text>
<line x1="352.32" y1="314.20" x2="352.32" y2="316.80" stroke="#9a9a9a" stroke-width="0.9"/>
<text transform="translate(352.32,326.90) scale(1,1.15)" font-size="6.2" font-weight="bold" text-anchor="middle" letter-spacing="-0.3">3</text>
<line x1="365.96" y1="314.20" x2="365.96" y2="316.80" stroke="#9a9a9a" stroke-width="0.9"/>
<text transform="translate(365.96,326.90) scale(1,1.15)" font-size="6.2" font-weight="bold" text-anchor="middle" letter-spacing="-0.3">4</text>
<line x1="379.60" y1="314.20" x2="379.60" y2="316.80" stroke="#9a9a9a" stroke-width="0.9"/>
<text transform="translate(379.60,326.90) scale(1,1.15)" font-size="6.2" font-weight="bold" text-anchor="middle" letter-spacing="-0.3">5</text>
<line x1="393.24" y1="314.20" x2="393.24" y2="316.80" stroke="#9a9a9a" stroke-width="0.9"/>
<text transform="translate(393.24,326.90) scale(1,1.15)" font-size="6.2" font-weight="bold" text-anchor="middle" letter-spacing="-0.3">6</text>
<line x1="406.88" y1="314.20" x2="406.88" y2="316.80" stroke="#9a9a9a" stroke-width="0.9"/>
<text transform="translate(406.88,326.90) scale(1,1.15)" font-size="6.2" font-weight="bold" text-anchor="middle" letter-spacing="-0.3">7</text>
<line x1="420.52" y1="314.20" x2="420.52" y2="316.80" stroke="#9a9a9a" stroke-width="0.9"/>
<text transform="translate(420.52,326.90) scale(1,1.15)" font-size="6.2" font-weight="bold" text-anchor="middle" letter-spacing="-0.3">8</text>
<line x1="434.16" y1="314.20" x2="434.16" y2="316.80" stroke="#9a9a9a" stroke-width="0.9"/>
<text transform="translate(434.16,326.90) scale(1,1.15)" font-size="6.2" font-weight="bold" text-anchor="middle" letter-spacing="-0.3">9</text>
<line x1="447.80" y1="314.20" x2="447.80" y2="316.80" stroke="#9a9a9a" stroke-width="0.9"/>
<text transform="translate(447.80,326.90) scale(1,1.15)" font-size="6.2" font-weight="bold" text-anchor="middle" letter-spacing="-0.3">10</text>
<line x1="461.44" y1="314.20" x2="461.44" y2="316.80" stroke="#9a9a9a" stroke-width="0.9"/>
<text transform="translate(461.44,326.90) scale(1,1.15)" font-size="6.2" font-weight="bold" text-anchor="middle" letter-spacing="-0.3">11</text>
<line x1="475.08" y1="314.20" x2="475.08" y2="316.80" stroke="#9a9a9a" stroke-width="0.9"/>
<text transform="translate(475.08,326.90) scale(1,1.15)" font-size="6.2" font-weight="bold" text-anchor="middle" letter-spacing="-0.3">12</text>
<line x1="488.72" y1="314.20" x2="488.72" y2="316.80" stroke="#9a9a9a" stroke-width="0.9"/>
<text transform="translate(488.72,326.90) scale(1,1.15)" font-size="6.2" font-weight="bold" text-anchor="middle" letter-spacing="-0.3">13</text>
<line x1="502.36" y1="314.20" x2="502.36" y2="316.80" stroke="#9a9a9a" stroke-width="0.9"/>
<text transform="translate(502.36,326.90) scale(1,1.15)" font-size="6.2" font-weight="bold" text-anchor="middle" letter-spacing="-0.3">14</text>
<line x1="516.00" y1="314.20" x2="516.00" y2="316.80" stroke="#9a9a9a" stroke-width="0.9"/>
<text transform="translate(516.00,326.90) scale(1,1.15)" font-size="6.2" font-weight="bold" text-anchor="middle" letter-spacing="-0.3">15</text>
<text transform="translate(306.00,316.80) scale(1,1.15)" font-size="6.2" font-weight="bold" text-anchor="end" letter-spacing="-0.3">0</text>
<text transform="translate(306.00,303.20) scale(1,1.15)" font-size="6.2" font-weight="bold" text-anchor="end" letter-spacing="-0.3">100</text>
<text transform="translate(306.00,289.60) scale(1,1.15)" font-size="6.2" font-weight="bold" text-anchor="end" letter-spacing="-0.3">200</text>
<text transform="translate(306.00,276.00) scale(1,1.15)" font-size="6.2" font-weight="bold" text-anchor="end" letter-spacing="-0.3">300</text>
<text transform="translate(306.00,262.40) scale(1,1.15)" font-size="6.2" font-weight="bold" text-anchor="end" letter-spacing="-0.3">400</text>
<text transform="translate(306.00,248.80) scale(1,1.15)" font-size="6.2" font-weight="bold" text-anchor="end" letter-spacing="-0.3">500</text>
<text transform="translate(306.00,235.20) scale(1,1.15)" font-size="6.2" font-weight="bold" text-anchor="end" letter-spacing="-0.3">600</text>
<text transform="translate(306.00,221.60) scale(1,1.15)" font-size="6.2" font-weight="bold" text-anchor="end" letter-spacing="-0.3">700</text>
<text transform="translate(306.00,208.00) scale(1,1.15)" font-size="6.2" font-weight="bold" text-anchor="end" letter-spacing="-0.3">800</text>
<text transform="translate(306.00,188.60) scale(1,1.15)" font-size="6.2" font-weight="bold" text-anchor="end" letter-spacing="-0.3">1400</text>
<text transform="translate(413.50,341.40) scale(1,1.12)" font-size="7.7" font-weight="bold" text-anchor="middle" >Months post-BMT</text>
<text transform="translate(281.50,244.40) rotate(-90)" font-size="7.6" font-weight="bold" text-anchor="middle">CD19 count (cells/&#956;L)</text>
<polyline points="325.04,313.32 338.68,313.32 352.32,313.32 365.96,311.28 379.60,311.28 406.88,311.96 420.52,305.16 434.16,305.30 475.08,304.62 516.00,294.96" fill="none" stroke="#1a1a1a" stroke-width="1.0"/>
<polyline points="393.24,297.00 434.16,288.43 516.00,291.97" fill="none" stroke="#1a1a1a" stroke-width="1.0"/>
<polyline points="325.04,313.32 338.68,312.64 352.32,313.32 365.96,305.84 379.60,292.24 393.24,288.16 461.44,265.45 502.36,269.39" fill="none" stroke="#1a1a1a" stroke-width="1.0"/>
<polyline points="325.04,312.64 338.68,305.57 352.32,299.99" fill="none" stroke="#1a1a1a" stroke-width="1.0"/>
<polyline points="325.04,312.64 338.68,305.16 352.32,291.29 365.96,283.13 379.60,293.06 393.24,287.75 420.52,299.45 475.08,293.06" fill="none" stroke="#1a1a1a" stroke-width="1.0"/>
<polyline points="325.04,313.32 338.68,309.92 352.32,311.28 365.96,305.16 379.60,279.59 393.24,208.87 406.88,289.52 420.52,279.59 475.08,266.94" fill="none" stroke="#1a1a1a" stroke-width="1.0"/>
<polyline points="325.04,312.64 338.68,296.18 352.32,228.18 393.24,234.44 447.80,185.60" fill="none" stroke="#1a1a1a" stroke-width="1.0"/>
<polyline points="325.04,313.32 338.68,311.28 352.32,311.96 365.96,304.48 393.24,291.70 406.88,265.18" fill="none" stroke="#1a1a1a" stroke-width="1.0"/>
<polygon points="325.04,310.54 325.60,311.87 327.04,311.99 325.94,312.93 326.27,314.34 325.04,313.59 323.81,314.34 324.14,312.93 323.04,311.99 324.48,311.87" fill="#fff" stroke="#1a1a1a" stroke-width="0.7"/>
<polygon points="338.68,294.08 339.24,295.42 340.68,295.54 339.58,296.48 339.91,297.88 338.68,297.13 337.45,297.88 337.78,296.48 336.68,295.54 338.12,295.42" fill="#fff" stroke="#1a1a1a" stroke-width="0.7"/>
<polygon points="352.32,226.08 352.88,227.42 354.32,227.54 353.22,228.48 353.55,229.88 352.32,229.13 351.09,229.88 351.42,228.48 350.32,227.54 351.76,227.42" fill="#fff" stroke="#1a1a1a" stroke-width="0.7"/>
<polygon points="393.24,232.34 393.80,233.67 395.24,233.79 394.14,234.73 394.47,236.14 393.24,235.39 392.01,236.14 392.34,234.73 391.24,233.79 392.68,233.67" fill="#fff" stroke="#1a1a1a" stroke-width="0.7"/>
<polygon points="447.80,183.50 448.36,184.83 449.80,184.95 448.70,185.89 449.03,187.30 447.80,186.55 446.57,187.30 446.90,185.89 445.80,184.95 447.24,184.83" fill="#fff" stroke="#1a1a1a" stroke-width="0.7"/>
<polygon points="325.04,310.24 327.44,314.44 322.64,314.44" fill="#fff" stroke="#1a1a1a" stroke-width="0.8"/>
<polygon points="338.68,302.76 341.08,306.96 336.28,306.96" fill="#fff" stroke="#1a1a1a" stroke-width="0.8"/>
<polygon points="352.32,288.89 354.72,293.09 349.92,293.09" fill="#fff" stroke="#1a1a1a" stroke-width="0.8"/>
<polygon points="365.96,280.73 368.36,284.93 363.56,284.93" fill="#fff" stroke="#1a1a1a" stroke-width="0.8"/>
<polygon points="379.60,290.66 382.00,294.86 377.20,294.86" fill="#fff" stroke="#1a1a1a" stroke-width="0.8"/>
<polygon points="393.24,285.35 395.64,289.55 390.84,289.55" fill="#fff" stroke="#1a1a1a" stroke-width="0.8"/>
<polygon points="420.52,297.05 422.92,301.25 418.12,301.25" fill="#fff" stroke="#1a1a1a" stroke-width="0.8"/>
<polygon points="475.08,290.66 477.48,294.86 472.68,294.86" fill="#fff" stroke="#1a1a1a" stroke-width="0.8"/>
<circle cx="325.04" cy="313.32" r="2.1" fill="#fff" stroke="#1a1a1a" stroke-width="0.8"/>
<circle cx="338.68" cy="312.64" r="2.1" fill="#fff" stroke="#1a1a1a" stroke-width="0.8"/>
<circle cx="352.32" cy="313.32" r="2.1" fill="#fff" stroke="#1a1a1a" stroke-width="0.8"/>
<circle cx="365.96" cy="305.84" r="2.1" fill="#fff" stroke="#1a1a1a" stroke-width="0.8"/>
<circle cx="379.60" cy="292.24" r="2.1" fill="#fff" stroke="#1a1a1a" stroke-width="0.8"/>
<circle cx="393.24" cy="288.16" r="2.1" fill="#fff" stroke="#1a1a1a" stroke-width="0.8"/>
<circle cx="461.44" cy="265.45" r="2.1" fill="#fff" stroke="#1a1a1a" stroke-width="0.8"/>
<circle cx="502.36" cy="269.39" r="2.1" fill="#fff" stroke="#1a1a1a" stroke-width="0.8"/>
<rect x="323.04" y="311.32" width="4.00" height="4.00" fill="#fff" stroke="#1a1a1a" stroke-width="0.8"/>
<rect x="336.68" y="311.32" width="4.00" height="4.00" fill="#fff" stroke="#1a1a1a" stroke-width="0.8"/>
<rect x="350.32" y="311.32" width="4.00" height="4.00" fill="#fff" stroke="#1a1a1a" stroke-width="0.8"/>
<rect x="363.96" y="309.28" width="4.00" height="4.00" fill="#fff" stroke="#1a1a1a" stroke-width="0.8"/>
<rect x="377.60" y="309.28" width="4.00" height="4.00" fill="#fff" stroke="#1a1a1a" stroke-width="0.8"/>
<rect x="404.88" y="309.96" width="4.00" height="4.00" fill="#fff" stroke="#1a1a1a" stroke-width="0.8"/>
<rect x="418.52" y="303.16" width="4.00" height="4.00" fill="#fff" stroke="#1a1a1a" stroke-width="0.8"/>
<rect x="432.16" y="303.30" width="4.00" height="4.00" fill="#fff" stroke="#1a1a1a" stroke-width="0.8"/>
<rect x="473.08" y="302.62" width="4.00" height="4.00" fill="#fff" stroke="#1a1a1a" stroke-width="0.8"/>
<rect x="514.00" y="292.96" width="4.00" height="4.00" fill="#fff" stroke="#1a1a1a" stroke-width="0.8"/>
<polygon points="325.04,310.92 325.66,312.47 327.32,312.58 326.04,313.64 326.45,315.26 325.04,314.37 323.63,315.26 324.04,313.64 322.76,312.58 324.42,312.47" fill="#000"/>
<polygon points="338.68,308.88 339.30,310.43 340.96,310.54 339.68,311.60 340.09,313.22 338.68,312.33 337.27,313.22 337.68,311.60 336.40,310.54 338.06,310.43" fill="#000"/>
<polygon points="352.32,309.56 352.94,311.11 354.60,311.22 353.32,312.28 353.73,313.90 352.32,313.01 350.91,313.90 351.32,312.28 350.04,311.22 351.70,311.11" fill="#000"/>
<polygon points="365.96,302.08 366.58,303.63 368.24,303.74 366.96,304.80 367.37,306.42 365.96,305.53 364.55,306.42 364.96,304.80 363.68,303.74 365.34,303.63" fill="#000"/>
<polygon points="393.24,289.30 393.86,290.85 395.52,290.95 394.24,292.02 394.65,293.64 393.24,292.75 391.83,293.64 392.24,292.02 390.96,290.95 392.62,290.85" fill="#000"/>
<polygon points="406.88,262.78 407.50,264.33 409.16,264.43 407.88,265.50 408.29,267.12 406.88,266.23 405.47,267.12 405.88,265.50 404.60,264.43 406.26,264.33" fill="#000"/>
<polygon points="325.04,310.82 327.54,315.32 322.54,315.32" fill="#000"/>
<polygon points="338.68,307.42 341.18,311.92 336.18,311.92" fill="#000"/>
<polygon points="352.32,308.78 354.82,313.28 349.82,313.28" fill="#000"/>
<polygon points="365.96,302.66 368.46,307.16 363.46,307.16" fill="#000"/>
<polygon points="379.60,277.09 382.10,281.59 377.10,281.59" fill="#000"/>
<polygon points="393.24,206.37 395.74,210.87 390.74,210.87" fill="#000"/>
<polygon points="406.88,287.02 409.38,291.52 404.38,291.52" fill="#000"/>
<polygon points="420.52,277.09 423.02,281.59 418.02,281.59" fill="#000"/>
<polygon points="475.08,264.44 477.58,268.94 472.58,268.94" fill="#000"/>
<circle cx="325.04" cy="312.64" r="2.3" fill="#000"/>
<circle cx="352.32" cy="299.99" r="2.3" fill="#000"/>
<rect x="391.24" y="295.00" width="4.00" height="4.00" fill="#000"/>
<rect x="432.16" y="286.43" width="4.00" height="4.00" fill="#000"/>
<rect x="514.00" y="289.97" width="4.00" height="4.00" fill="#000"/>
<text x="-0.50" y="375.10" font-size="18" font-weight="bold" text-anchor="start" stroke="#000" stroke-width="0.25">E</text>
<line x1="32.70" y1="496.10" x2="32.70" y2="376.20" stroke="#707070" stroke-width="1.35"/>
<line x1="32.70" y1="374.60" x2="32.70" y2="364.60" stroke="#707070" stroke-width="1.35"/>
<line x1="32.70" y1="493.50" x2="237.30" y2="493.50" stroke="#707070" stroke-width="1.35"/>
<line x1="32.70" y1="493.50" x2="32.70" y2="496.10" stroke="#707070" stroke-width="0.9"/>
<text transform="translate(32.70,505.80) scale(1,1.15)" font-size="6.2" font-weight="bold" text-anchor="middle" letter-spacing="-0.3">0</text>
<line x1="46.34" y1="493.50" x2="46.34" y2="496.10" stroke="#707070" stroke-width="0.9"/>
<text transform="translate(46.34,505.80) scale(1,1.15)" font-size="6.2" font-weight="bold" text-anchor="middle" letter-spacing="-0.3">1</text>
<line x1="59.98" y1="493.50" x2="59.98" y2="496.10" stroke="#707070" stroke-width="0.9"/>
<text transform="translate(59.98,505.80) scale(1,1.15)" font-size="6.2" font-weight="bold" text-anchor="middle" letter-spacing="-0.3">2</text>
<line x1="73.62" y1="493.50" x2="73.62" y2="496.10" stroke="#707070" stroke-width="0.9"/>
<text transform="translate(73.62,505.80) scale(1,1.15)" font-size="6.2" font-weight="bold" text-anchor="middle" letter-spacing="-0.3">3</text>
<line x1="87.26" y1="493.50" x2="87.26" y2="496.10" stroke="#707070" stroke-width="0.9"/>
<text transform="translate(87.26,505.80) scale(1,1.15)" font-size="6.2" font-weight="bold" text-anchor="middle" letter-spacing="-0.3">4</text>
<line x1="100.90" y1="493.50" x2="100.90" y2="496.10" stroke="#707070" stroke-width="0.9"/>
<text transform="translate(100.90,505.80) scale(1,1.15)" font-size="6.2" font-weight="bold" text-anchor="middle" letter-spacing="-0.3">5</text>
<line x1="114.54" y1="493.50" x2="114.54" y2="496.10" stroke="#707070" stroke-width="0.9"/>
<text transform="translate(114.54,505.80) scale(1,1.15)" font-size="6.2" font-weight="bold" text-anchor="middle" letter-spacing="-0.3">6</text>
<line x1="128.18" y1="493.50" x2="128.18" y2="496.10" stroke="#707070" stroke-width="0.9"/>
<text transform="translate(128.18,505.80) scale(1,1.15)" font-size="6.2" font-weight="bold" text-anchor="middle" letter-spacing="-0.3">7</text>
<line x1="141.82" y1="493.50" x2="141.82" y2="496.10" stroke="#707070" stroke-width="0.9"/>
<text transform="translate(141.82,505.80) scale(1,1.15)" font-size="6.2" font-weight="bold" text-anchor="middle" letter-spacing="-0.3">8</text>
<line x1="155.46" y1="493.50" x2="155.46" y2="496.10" stroke="#707070" stroke-width="0.9"/>
<text transform="translate(155.46,505.80) scale(1,1.15)" font-size="6.2" font-weight="bold" text-anchor="middle" letter-spacing="-0.3">9</text>
<line x1="169.10" y1="493.50" x2="169.10" y2="496.10" stroke="#707070" stroke-width="0.9"/>
<text transform="translate(169.10,505.80) scale(1,1.15)" font-size="6.2" font-weight="bold" text-anchor="middle" letter-spacing="-0.3">10</text>
<line x1="182.74" y1="493.50" x2="182.74" y2="496.10" stroke="#707070" stroke-width="0.9"/>
<text transform="translate(182.74,505.80) scale(1,1.15)" font-size="6.2" font-weight="bold" text-anchor="middle" letter-spacing="-0.3">11</text>
<line x1="196.38" y1="493.50" x2="196.38" y2="496.10" stroke="#707070" stroke-width="0.9"/>
<text transform="translate(196.38,505.80) scale(1,1.15)" font-size="6.2" font-weight="bold" text-anchor="middle" letter-spacing="-0.3">12</text>
<line x1="210.02" y1="493.50" x2="210.02" y2="496.10" stroke="#707070" stroke-width="0.9"/>
<text transform="translate(210.02,505.80) scale(1,1.15)" font-size="6.2" font-weight="bold" text-anchor="middle" letter-spacing="-0.3">13</text>
<line x1="223.66" y1="493.50" x2="223.66" y2="496.10" stroke="#707070" stroke-width="0.9"/>
<text transform="translate(223.66,505.80) scale(1,1.15)" font-size="6.2" font-weight="bold" text-anchor="middle" letter-spacing="-0.3">14</text>
<line x1="237.30" y1="493.50" x2="237.30" y2="496.10" stroke="#707070" stroke-width="0.9"/>
<text transform="translate(237.30,505.80) scale(1,1.15)" font-size="6.2" font-weight="bold" text-anchor="middle" letter-spacing="-0.3">15</text>
<text transform="translate(27.00,496.30) scale(1,1.15)" font-size="6.2" font-weight="bold" text-anchor="end" letter-spacing="-0.3">0</text>
<text transform="translate(27.00,486.40) scale(1,1.15)" font-size="6.2" font-weight="bold" text-anchor="end" letter-spacing="-0.3">25</text>
<text transform="translate(27.00,476.50) scale(1,1.15)" font-size="6.2" font-weight="bold" text-anchor="end" letter-spacing="-0.3">50</text>
<text transform="translate(27.00,466.60) scale(1,1.15)" font-size="6.2" font-weight="bold" text-anchor="end" letter-spacing="-0.3">75</text>
<text transform="translate(27.00,456.70) scale(1,1.15)" font-size="6.2" font-weight="bold" text-anchor="end" letter-spacing="-0.3">100</text>
<text transform="translate(27.00,446.80) scale(1,1.15)" font-size="6.2" font-weight="bold" text-anchor="end" letter-spacing="-0.3">125</text>
<text transform="translate(27.00,436.90) scale(1,1.15)" font-size="6.2" font-weight="bold" text-anchor="end" letter-spacing="-0.3">150</text>
<text transform="translate(27.00,427.00) scale(1,1.15)" font-size="6.2" font-weight="bold" text-anchor="end" letter-spacing="-0.3">175</text>
<text transform="translate(27.00,417.10) scale(1,1.15)" font-size="6.2" font-weight="bold" text-anchor="end" letter-spacing="-0.3">200</text>
<text transform="translate(27.00,407.20) scale(1,1.15)" font-size="6.2" font-weight="bold" text-anchor="end" letter-spacing="-0.3">225</text>
<text transform="translate(27.00,397.30) scale(1,1.15)" font-size="6.2" font-weight="bold" text-anchor="end" letter-spacing="-0.3">250</text>
<text transform="translate(27.00,387.40) scale(1,1.15)" font-size="6.2" font-weight="bold" text-anchor="end" letter-spacing="-0.3">275</text>
<text transform="translate(27.00,367.70) scale(1,1.15)" font-size="6.2" font-weight="bold" text-anchor="end" letter-spacing="-0.3">550</text>
<text transform="translate(135.00,521.30) scale(1,1.12)" font-size="7.7" font-weight="bold" text-anchor="middle" >Months post-BMT</text>
<text transform="translate(8.70,428.30) rotate(-90)" font-size="7.9" font-weight="bold" text-anchor="middle">PHA SI</text>
<line x1="33.5" y1="454.5" x2="239" y2="454.5" stroke="#1a1a1a" stroke-width="1.0" stroke-dasharray="2.3,1.5"/>
<polyline points="46.34,491.52 59.98,491.52 73.62,490.33 87.26,487.56 100.90,488.75 128.18,426.97 141.82,426.97 155.46,473.70 196.38,443.60 237.30,364.80" fill="none" stroke="#1a1a1a" stroke-width="1.0"/>
<polyline points="114.54,484.79 237.30,384.60" fill="none" stroke="#1a1a1a" stroke-width="1.0"/>
<polyline points="46.34,492.31 59.98,489.54 73.62,491.52 87.26,488.75 100.90,455.09 114.54,438.06 223.66,445.98" fill="none" stroke="#1a1a1a" stroke-width="1.0"/>
<polyline points="46.34,492.71 59.98,492.31 73.62,491.92" fill="none" stroke="#1a1a1a" stroke-width="1.0"/>
<polyline points="46.34,492.31 59.98,492.31 73.62,491.52 87.26,483.60 100.90,449.94 114.54,444.40 141.82,453.90 196.38,432.52" fill="none" stroke="#1a1a1a" stroke-width="1.0"/>
<polyline points="46.34,492.71 59.98,492.71 73.62,492.31 87.26,483.60 100.90,488.75 114.54,492.31 128.18,472.91 141.82,455.09 196.38,397.27" fill="none" stroke="#1a1a1a" stroke-width="1.0"/>
<polyline points="46.34,492.71 59.98,470.53 73.62,479.64 100.90,453.90 114.54,443.60 169.10,438.06" fill="none" stroke="#1a1a1a" stroke-width="1.0"/>
<polyline points="46.34,492.71 59.98,492.71 73.62,491.52 87.26,484.79 100.90,472.91" fill="none" stroke="#1a1a1a" stroke-width="1.0"/>
<polygon points="46.34,490.61 46.90,491.94 48.34,492.06 47.24,493.00 47.57,494.41 46.34,493.66 45.11,494.41 45.44,493.00 44.34,492.06 45.78,491.94" fill="#fff" stroke="#1a1a1a" stroke-width="0.7"/>
<polygon points="59.98,468.43 60.54,469.76 61.98,469.88 60.88,470.83 61.21,472.23 59.98,471.48 58.75,472.23 59.08,470.83 57.98,469.88 59.42,469.76" fill="#fff" stroke="#1a1a1a" stroke-width="0.7"/>
<polygon points="73.62,477.54 74.18,478.87 75.62,478.99 74.52,479.93 74.85,481.34 73.62,480.59 72.39,481.34 72.72,479.93 71.62,478.99 73.06,478.87" fill="#fff" stroke="#1a1a1a" stroke-width="0.7"/>
<polygon points="100.90,451.80 101.46,453.13 102.90,453.25 101.80,454.19 102.13,455.60 100.90,454.85 99.67,455.60 100.00,454.19 98.90,453.25 100.34,453.13" fill="#fff" stroke="#1a1a1a" stroke-width="0.7"/>
<polygon points="114.54,441.50 115.10,442.84 116.54,442.96 115.44,443.90 115.77,445.30 114.54,444.55 113.31,445.30 113.64,443.90 112.54,442.96 113.98,442.84" fill="#fff" stroke="#1a1a1a" stroke-width="0.7"/>
<polygon points="169.10,435.96 169.66,437.29 171.10,437.41 170.00,438.35 170.33,439.76 169.10,439.01 167.87,439.76 168.20,438.35 167.10,437.41 168.54,437.29" fill="#fff" stroke="#1a1a1a" stroke-width="0.7"/>
<polygon points="46.34,489.91 48.74,494.11 43.94,494.11" fill="#fff" stroke="#1a1a1a" stroke-width="0.8"/>
<polygon points="59.98,489.91 62.38,494.11 57.58,494.11" fill="#fff" stroke="#1a1a1a" stroke-width="0.8"/>
<polygon points="73.62,489.12 76.02,493.32 71.22,493.32" fill="#fff" stroke="#1a1a1a" stroke-width="0.8"/>
<polygon points="87.26,481.20 89.66,485.40 84.86,485.40" fill="#fff" stroke="#1a1a1a" stroke-width="0.8"/>
<polygon points="100.90,447.54 103.30,451.74 98.50,451.74" fill="#fff" stroke="#1a1a1a" stroke-width="0.8"/>
<polygon points="114.54,442.00 116.94,446.20 112.14,446.20" fill="#fff" stroke="#1a1a1a" stroke-width="0.8"/>
<polygon points="141.82,451.50 144.22,455.70 139.42,455.70" fill="#fff" stroke="#1a1a1a" stroke-width="0.8"/>
<polygon points="196.38,430.12 198.78,434.32 193.98,434.32" fill="#fff" stroke="#1a1a1a" stroke-width="0.8"/>
<circle cx="46.34" cy="492.31" r="2.1" fill="#fff" stroke="#1a1a1a" stroke-width="0.8"/>
<circle cx="59.98" cy="489.54" r="2.1" fill="#fff" stroke="#1a1a1a" stroke-width="0.8"/>
<circle cx="73.62" cy="491.52" r="2.1" fill="#fff" stroke="#1a1a1a" stroke-width="0.8"/>
<circle cx="87.26" cy="488.75" r="2.1" fill="#fff" stroke="#1a1a1a" stroke-width="0.8"/>
<circle cx="100.90" cy="455.09" r="2.1" fill="#fff" stroke="#1a1a1a" stroke-width="0.8"/>
<circle cx="114.54" cy="438.06" r="2.1" fill="#fff" stroke="#1a1a1a" stroke-width="0.8"/>
<circle cx="223.66" cy="445.98" r="2.1" fill="#fff" stroke="#1a1a1a" stroke-width="0.8"/>
<rect x="44.34" y="489.52" width="4.00" height="4.00" fill="#fff" stroke="#1a1a1a" stroke-width="0.8"/>
<rect x="71.62" y="488.33" width="4.00" height="4.00" fill="#fff" stroke="#1a1a1a" stroke-width="0.8"/>
<rect x="85.26" y="485.56" width="4.00" height="4.00" fill="#fff" stroke="#1a1a1a" stroke-width="0.8"/>
<rect x="98.90" y="486.75" width="4.00" height="4.00" fill="#fff" stroke="#1a1a1a" stroke-width="0.8"/>
<rect x="126.18" y="424.97" width="4.00" height="4.00" fill="#fff" stroke="#1a1a1a" stroke-width="0.8"/>
<rect x="139.82" y="424.97" width="4.00" height="4.00" fill="#fff" stroke="#1a1a1a" stroke-width="0.8"/>
<rect x="153.46" y="471.70" width="4.00" height="4.00" fill="#fff" stroke="#1a1a1a" stroke-width="0.8"/>
<rect x="194.38" y="441.60" width="4.00" height="4.00" fill="#fff" stroke="#1a1a1a" stroke-width="0.8"/>
<rect x="235.30" y="362.80" width="4.00" height="4.00" fill="#fff" stroke="#1a1a1a" stroke-width="0.8"/>
<polygon points="46.34,490.31 46.96,491.86 48.62,491.97 47.34,493.03 47.75,494.65 46.34,493.76 44.93,494.65 45.34,493.03 44.06,491.97 45.72,491.86" fill="#000"/>
<polygon points="73.62,489.12 74.24,490.67 75.90,490.78 74.62,491.84 75.03,493.46 73.62,492.57 72.21,493.46 72.62,491.84 71.34,490.78 73.00,490.67" fill="#000"/>
<polygon points="87.26,482.39 87.88,483.94 89.54,484.05 88.26,485.11 88.67,486.73 87.26,485.84 85.85,486.73 86.26,485.11 84.98,484.05 86.64,483.94" fill="#000"/>
<polygon points="100.90,470.51 101.52,472.06 103.18,472.17 101.90,473.23 102.31,474.85 100.90,473.96 99.49,474.85 99.90,473.23 98.62,472.17 100.28,472.06" fill="#000"/>
<polygon points="87.26,481.10 89.76,485.60 84.76,485.60" fill="#000"/>
<polygon points="100.90,486.25 103.40,490.75 98.40,490.75" fill="#000"/>
<polygon points="114.54,489.81 117.04,494.31 112.04,494.31" fill="#000"/>
<polygon points="128.18,470.41 130.68,474.91 125.68,474.91" fill="#000"/>
<polygon points="141.82,452.59 144.32,457.09 139.32,457.09" fill="#000"/>
<polygon points="196.38,394.77 198.88,399.27 193.88,399.27" fill="#000"/>
<circle cx="73.62" cy="491.92" r="2.3" fill="#000"/>
<rect x="112.54" y="482.79" width="4.00" height="4.00" fill="#000"/>
<rect x="235.30" y="382.60" width="4.00" height="4.00" fill="#000"/>
<g transform="translate(334.00,365.40) scale(1.4) translate(-334.00,-365.40)"><rect x="332.00" y="363.40" width="4.00" height="4.00" fill="#fff" stroke="#1a1a1a" stroke-width="0.8"/></g>
<text transform="translate(342.00,368.20) scale(1,1.14)" font-size="7.6" font-weight="bold" text-anchor="start" >Patient 1</text>
<g transform="translate(334.20,377.60) scale(1.4) translate(-334.20,-377.60)"><rect x="332.20" y="375.60" width="4.00" height="4.00" fill="#000"/></g>
<text transform="translate(342.20,380.40) scale(1,1.14)" font-size="7.6" font-weight="bold" text-anchor="start" >Patient 2</text>
<g transform="translate(334.40,389.60) scale(1.4) translate(-334.40,-389.60)"><circle cx="334.40" cy="389.60" r="2.1" fill="#fff" stroke="#1a1a1a" stroke-width="0.8"/></g>
<text transform="translate(342.40,392.40) scale(1,1.14)" font-size="7.6" font-weight="bold" text-anchor="start" >Patient 3</text>
<g transform="translate(334.60,401.40) scale(1.4) translate(-334.60,-401.40)"><circle cx="334.60" cy="401.40" r="2.3" fill="#000"/></g>
<text transform="translate(342.60,404.20) scale(1,1.14)" font-size="7.6" font-weight="bold" text-anchor="start" >Patient 4</text>
<g transform="translate(334.80,414.00) scale(1.4) translate(-334.80,-414.00)"><polygon points="334.80,411.60 337.20,415.80 332.40,415.80" fill="#fff" stroke="#1a1a1a" stroke-width="0.8"/></g>
<text transform="translate(342.80,416.80) scale(1,1.14)" font-size="7.6" font-weight="bold" text-anchor="start" >Patient 5</text>
<g transform="translate(335.00,426.40) scale(1.4) translate(-335.00,-426.40)"><polygon points="335.00,423.90 337.50,428.40 332.50,428.40" fill="#000"/></g>
<text transform="translate(343.00,429.20) scale(1,1.14)" font-size="7.6" font-weight="bold" text-anchor="start" >Patient 6</text>
<g transform="translate(335.20,438.80) scale(1.4) translate(-335.20,-438.80)"><polygon points="335.20,436.70 335.76,438.03 337.20,438.15 336.10,439.09 336.43,440.50 335.20,439.75 333.97,440.50 334.30,439.09 333.20,438.15 334.64,438.03" fill="#fff" stroke="#1a1a1a" stroke-width="0.7"/></g>
<text transform="translate(343.20,441.60) scale(1,1.14)" font-size="7.6" font-weight="bold" text-anchor="start" >Patient 7</text>
<g transform="translate(335.40,452.00) scale(1.4) translate(-335.40,-452.00)"><polygon points="335.40,449.60 336.02,451.15 337.68,451.26 336.40,452.32 336.81,453.94 335.40,453.05 333.99,453.94 334.40,452.32 333.12,451.26 334.78,451.15" fill="#000"/></g>
<text transform="translate(343.40,454.80) scale(1,1.14)" font-size="7.6" font-weight="bold" text-anchor="start" >Patient 8</text>
</svg>
</body></html>
